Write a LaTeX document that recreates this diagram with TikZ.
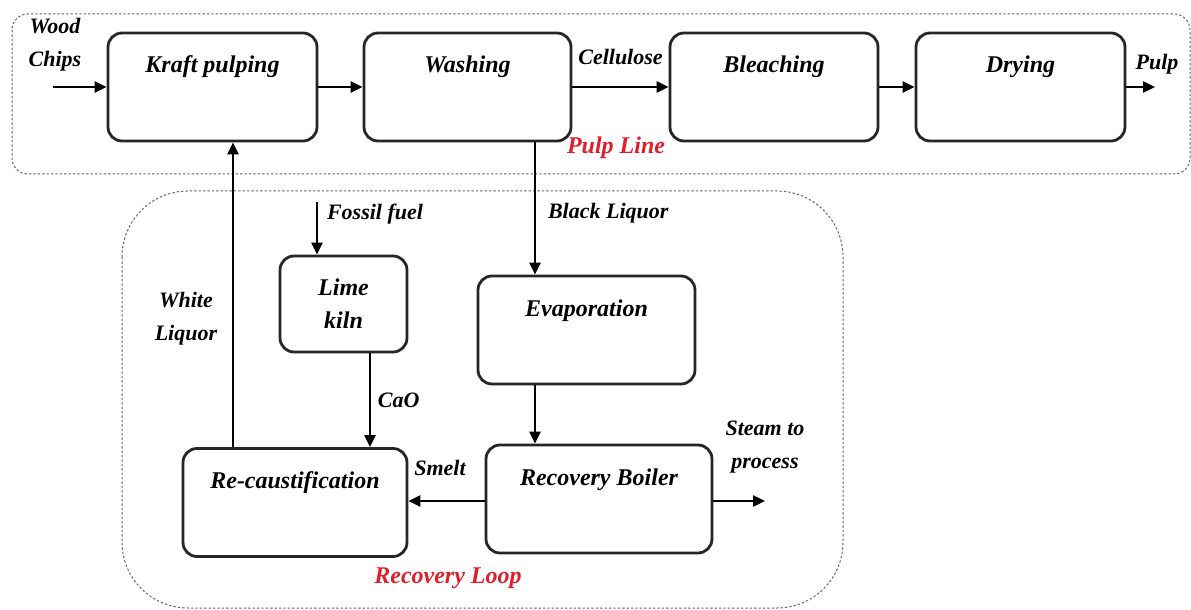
\documentclass[tikz,border=0pt]{standalone}
\usepackage{fontspec}
\setmainfont{Liberation Serif}
\usetikzlibrary{arrows.meta}
\definecolor{loopred}{RGB}{222,32,44}
\tikzstyle{process} = [rectangle, rounded corners=7pt, draw=black!85, line width=1.4pt, text centered, inner ysep=0pt, text height=20pt, text depth=34pt, font=\fontsize{12}{16.5}\selectfont\bfseries\itshape]
\tikzstyle{kiln} = [rectangle, rounded corners=7pt, draw=black!85, line width=1.4pt, align=center, minimum width=63.5pt, minimum height=48pt, font=\fontsize{12}{16.5}\selectfont\bfseries\itshape]
\tikzstyle{flow} = [line width=1.2pt, -{Triangle[length=6pt,width=5.5pt]}]
\tikzstyle{tag} = [font=\fontsize{11}{16.5}\selectfont\bfseries\itshape, align=center]
\tikzstyle{zone} = [draw=black!60, line width=0.5pt, dash pattern=on 1.2pt off 1pt]
\tikzstyle{zonename} = [font=\fontsize{12}{14}\selectfont\bfseries\itshape, text=loopred]
\begin{document}
\begin{tikzpicture}[x=0.5pt, y=-0.5pt]
  \useasboundingbox (0,0) rectangle (1191,610);
  % dotted frames round the two lines
  \draw[zone, rounded corners=8pt] (12,14) rectangle (1190,174);
  \draw[zone, rounded corners=33pt] (122,191) rectangle (843,608);

  % pulp line
  \node (kraft) [process, minimum width=104.5pt] at (212.5,87) {Kraft pulping};
  \node (washing) [process, minimum width=103.5pt] at (467.5,87) {Washing};
  \node (bleaching) [process, minimum width=104pt] at (774,87) {Bleaching};
  \node (drying) [process, minimum width=104.5pt] at (1020.5,87) {Drying};
  \node (pulpline) [zonename] at (616,148) {Pulp Line};

  % recovery loop
  \node (lime) [kiln] at (343.5,304) {Lime\\kiln};
  \node (recaust) [process, minimum width=112pt] at (295,502.5) {Re-caustification};
  \node (evap) [process, minimum width=108.5pt] at (586.5,330) {Evaporation};
  \node (boiler) [process, minimum width=113pt] at (599,499) {Recovery Boiler};
  \node (recloop) [zonename] at (448,578) {Recovery Loop};

  % free ends
  \coordinate (chips) at (53,87);
  \coordinate (pulp) at (1155,87);
  \coordinate (fuel) at (317,202);
  \coordinate (steam) at (765,501);

  \draw[flow] (chips) -- (kraft.west);
  \node (chipslbl) [tag] at (55,45) {Wood\\Chips};
  \draw[flow] (kraft) -- (washing);
  \draw[flow] (washing) -- node[tag, above=7pt] (cellulose) {Cellulose} (bleaching);
  \draw[flow] (bleaching) -- (drying);
  \draw[flow] (drying) -- (pulp);
  \node (pulplbl) [tag] at (1157,64) {Pulp};

  \draw[flow] ([xshift=33.75pt]washing.south) -- ([xshift=-25.75pt]evap.north);
  \node (blacklbl) [tag, anchor=west] at (541,213) {Black Liquor};
  \draw[flow] ([xshift=-25.75pt]evap.south) -- ([xshift=-25.75pt]evap.south |- boiler.north);
  \draw[flow] ([yshift=-1pt]boiler.west) -- ([yshift=-1pt]boiler.west -| recaust.east);
  \node (smeltlbl) [tag] at (440,468) {Smelt};
  \draw[flow] ([yshift=-1pt]boiler.east) -- (steam);
  \node (steamlbl) [tag] at (765,447) {Steam to\\process};

  \draw[flow] (fuel) -- (fuel |- lime.north);
  \node (fuellbl) [tag, anchor=west] at (320,214) {Fossil fuel};
  \draw[flow] ([xshift=13.25pt]lime.south) -- ([xshift=13.25pt]lime.south |- recaust.north) node[tag, midway, right] (cao) {CaO};
  \draw[flow] ([xshift=-31pt]recaust.north) -- ([xshift=-31pt]recaust.north |- kraft.south) node[tag, pos=0.42, left=4pt] (white) {White\\Liquor};
\end{tikzpicture}
\end{document}
